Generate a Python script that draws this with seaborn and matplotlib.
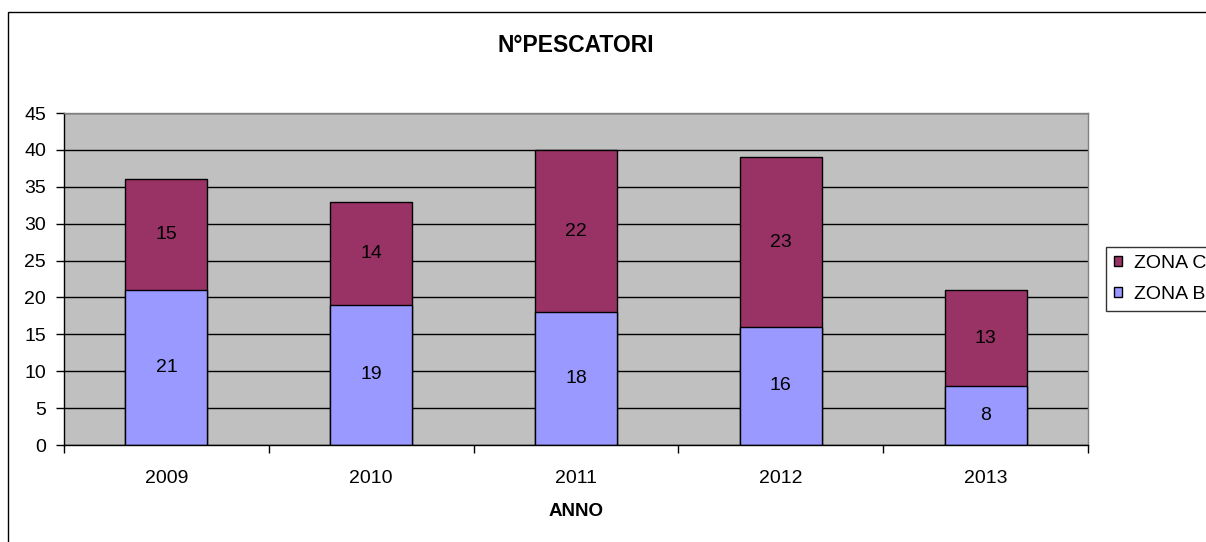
import numpy as np
import pandas as pd
import matplotlib
matplotlib.use("Agg")
import matplotlib.pyplot as plt
from matplotlib.patches import Patch, Rectangle
import seaborn as sns

years = ["2009", "2010", "2011", "2012", "2013"]
zona_b = [21, 19, 18, 16, 8]
zona_c = [15, 14, 22, 23, 13]

col_b = "#9999FF"
col_c = "#993366"

sns.set_style("white")
plt.rcParams["font.family"] = ["Liberation Sans", "DejaVu Sans"]
plt.rcParams.update({"text.color": "black", "xtick.color": "black", "ytick.color": "black",
                     "axes.labelcolor": "black"})

df = pd.DataFrame({"anno": years, "b": zona_b, "c": zona_c})
df["tot"] = df["b"] + df["c"]

fig = plt.figure(figsize=(12.06, 5.42), dpi=100)
ax = fig.add_axes([64 / 1206, 1 - 445 / 542, (1088 - 64) / 1206, (445 - 113) / 542])
ax.set_facecolor("#C0C0C0")
ax.set_axisbelow(True)
ax.yaxis.grid(True, color="black", linewidth=1)

# stacked: total drawn first (ZONA C colour), ZONA B on top of it
sns.barplot(data=df, x="anno", y="tot", color=col_c, saturation=1, width=0.4,
            edgecolor="black", linewidth=1, ax=ax)
sns.barplot(data=df, x="anno", y="b", color=col_b, saturation=1, width=0.4,
            edgecolor="black", linewidth=1, ax=ax)

for i, (b, c) in enumerate(zip(zona_b, zona_c)):
    ax.text(i, b / 2, str(b), ha="center", va="center", fontsize=14, color="black")
    ax.text(i, b + c / 2, str(c), ha="center", va="center", fontsize=14, color="black")

ax.set_ylim(0, 45)
ax.set_yticks(np.arange(0, 46, 5))
ax.set_xlim(-0.5, 4.5)
ax.set_xticks(np.arange(-0.5, 5, 1))
ax.set_xticklabels([])
ax.set_xticks(range(len(years)), minor=True)
ax.set_xticklabels(years, minor=True)
ax.tick_params(axis="x", which="major", bottom=True, direction="out", length=6, width=1, color="black")
ax.tick_params(axis="x", which="minor", bottom=True, length=0, pad=18, labelsize=14, labelcolor="black")
ax.tick_params(axis="y", left=True, direction="out", length=6, width=1, color="black", pad=7,
               labelsize=14, labelcolor="black")
ax.set_ylabel("")
ax.set_xlabel("")

for s in ["top", "right"]:
    ax.spines[s].set_color("#808080")
    ax.spines[s].set_linewidth(1)
for s in ["left", "bottom"]:
    ax.spines[s].set_color("black")
    ax.spines[s].set_linewidth(1)

fig.text(0.5 * (64 + 1088) / 1206, 1 - 45 / 542, "N°PESCATORI", ha="center", va="center",
         fontsize=16.5, fontweight="bold", color="black")
fig.text(0.5 * (64 + 1088) / 1206, 1 - 512 / 542, "ANNO", ha="center", va="center",
         fontsize=13.5, fontweight="bold", color="black")

handles = [Patch(facecolor=col_c, edgecolor="black", label="ZONA C"),
           Patch(facecolor=col_b, edgecolor="black", label="ZONA B")]
leg = fig.legend(handles=handles, loc="center left", bbox_to_anchor=(1106 / 1206, 1 - 279 / 542),
                 bbox_transform=fig.transFigure, frameon=True, fancybox=False, fontsize=14,
                 handlelength=0.42, handleheight=0.42, handletextpad=0.6, borderpad=0.4,
                 labelspacing=0.7, borderaxespad=0)
leg.get_frame().set_edgecolor("black")
leg.get_frame().set_linewidth(1)
for t in leg.get_texts():
    t.set_color("black")

fig.patches.append(Rectangle((8 / 1206, -0.1), 1.2, 1 - 12 / 542 + 0.1, transform=fig.transFigure,
                             fill=False, edgecolor="black", linewidth=1))

fig.savefig("out.png", dpi=100)
